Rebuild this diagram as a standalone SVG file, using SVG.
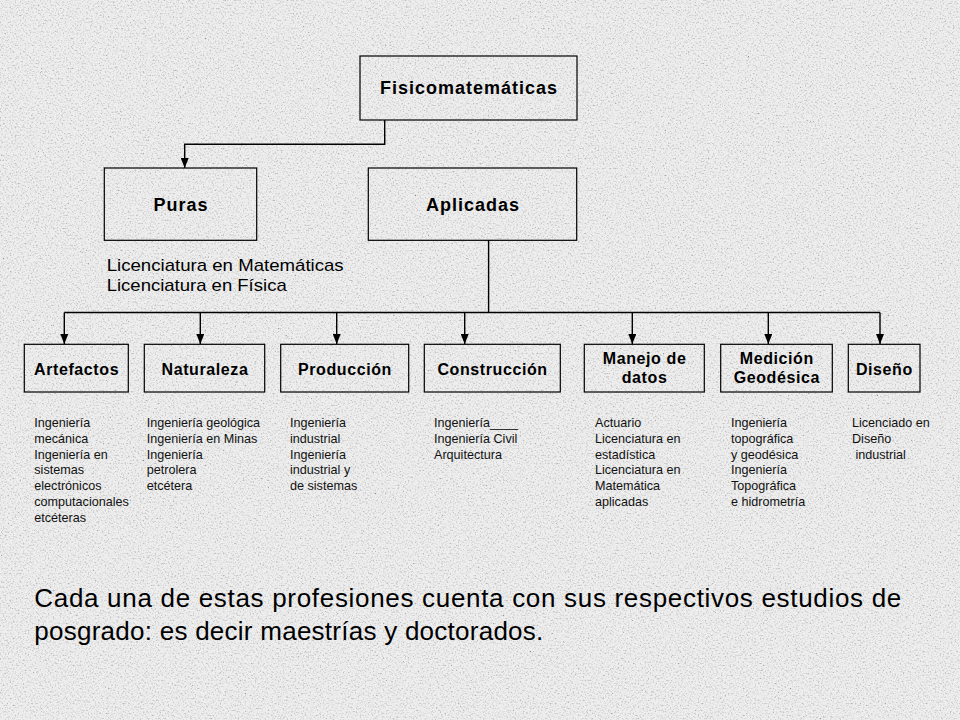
<svg xmlns="http://www.w3.org/2000/svg" width="960" height="720" viewBox="0 0 960 720">
  <defs>
    <filter id="marble" x="0" y="0" width="100%" height="100%">
      <feTurbulence type="fractalNoise" baseFrequency="0.6" numOctaves="3" seed="7" result="n"/>
      <feColorMatrix in="n" type="matrix" values="2.2 0 0 0 -0.15  2.2 0 0 0 -0.15  2.2 0 0 0 -0.15  0 0 0 0 0.4"/>
    </filter>
    <marker id="arr" viewBox="0 0 10 8" refX="10" refY="4" markerWidth="10" markerHeight="8" markerUnits="userSpaceOnUse" orient="auto">
      <path d="M0,0 L10,4 L0,8 Z" fill="#000"/>
    </marker>
    <style>
      .box { fill: none; stroke: #000; stroke-width: 1.2; }
      .conn { fill: none; stroke: #000; stroke-width: 1.4; }
      .big { font-family: "Liberation Sans", Arial, sans-serif; font-weight: bold; font-size: 18px; letter-spacing: 1px; fill: #000; text-anchor: middle; }
      .lbl { font-family: "Liberation Sans", Arial, sans-serif; font-weight: bold; font-size: 16px; letter-spacing: 0.6px; fill: #000; text-anchor: middle; }
      .sm { font-family: "Liberation Sans", Arial, sans-serif; font-size: 12.6px; fill: #111; }
      .mid { font-family: "Liberation Sans", Arial, sans-serif; font-size: 17px; fill: #000; }
      .foot { font-family: "Liberation Sans", Arial, sans-serif; font-size: 26px; fill: #000; }
    </style>
  </defs>

  <rect x="0" y="0" width="960" height="720" fill="#e2e2e2"/>
  <rect x="0" y="0" width="960" height="720" filter="url(#marble)"/>

  <g id="connectors">
    <path class="conn" d="M384.7,120 V144.3 H184.7 V168" marker-end="url(#arr)"/>
    <path class="conn" d="M488.6,240 V312.5"/>
    <path class="conn" d="M64.3,312.5 H880"/>
    <path class="conn" d="M64.3,312.5 V344" marker-end="url(#arr)"/>
    <path class="conn" d="M200.3,312.5 V344" marker-end="url(#arr)"/>
    <path class="conn" d="M336.7,312.5 V344" marker-end="url(#arr)"/>
    <path class="conn" d="M464.7,312.5 V344" marker-end="url(#arr)"/>
    <path class="conn" d="M632.3,312.5 V344" marker-end="url(#arr)"/>
    <path class="conn" d="M768.3,312.5 V344" marker-end="url(#arr)"/>
    <path class="conn" d="M880,312.5 V344" marker-end="url(#arr)"/>
  </g>

  <g id="fisicomatematicas">
    <rect class="box" x="360" y="56" width="217" height="64"/>
    <text class="big" x="469" y="94.3">Fisicomatemáticas</text>
  </g>
  <g id="puras">
    <rect class="box" x="104.3" y="168" width="152.4" height="72.3"/>
    <text class="big" x="181" y="211">Puras</text>
  </g>
  <g id="aplicadas">
    <rect class="box" x="368.3" y="168" width="208.4" height="72.3"/>
    <text class="big" x="473" y="211">Aplicadas</text>
  </g>
  <g id="puras-text">
    <text class="mid" x="106.7" y="271" textLength="237" lengthAdjust="spacingAndGlyphs">Licenciatura en Matemáticas</text>
    <text class="mid" x="106.7" y="291" textLength="180" lengthAdjust="spacingAndGlyphs">Licenciatura en Física</text>
  </g>

  <g id="artefactos">
    <rect class="box" x="24.3" y="344.3" width="104" height="47.7"/>
    <text class="lbl" x="76.6" y="374.5">Artefactos</text>
  </g>
  <g id="naturaleza">
    <rect class="box" x="144.3" y="344.3" width="120.4" height="47.7"/>
    <text class="lbl" x="205" y="374.5">Naturaleza</text>
  </g>
  <g id="produccion">
    <rect class="box" x="280.7" y="344.3" width="128" height="47.7"/>
    <text class="lbl" x="345" y="374.5">Producción</text>
  </g>
  <g id="construccion">
    <rect class="box" x="424.3" y="344.3" width="136" height="47.7"/>
    <text class="lbl" x="492.6" y="374.5">Construcción</text>
  </g>
  <g id="manejo">
    <rect class="box" x="584.3" y="344.3" width="120" height="47.7"/>
    <text class="lbl" x="644.6" y="364.3">Manejo de</text>
    <text class="lbl" x="644.6" y="383.3">datos</text>
  </g>
  <g id="medicion">
    <rect class="box" x="720.7" y="344.3" width="111.6" height="47.7"/>
    <text class="lbl" x="776.8" y="364.3">Medición</text>
    <text class="lbl" x="776.8" y="383.3">Geodésica</text>
  </g>
  <g id="diseno">
    <rect class="box" x="848.3" y="344.3" width="71.7" height="47.7"/>
    <text class="lbl" x="884.4" y="374.5">Diseño</text>
  </g>

  <g id="lists" class="sm">
    <text x="34.3" y="427">
      <tspan x="34.3" dy="0">Ingeniería</tspan>
      <tspan x="34.3" dy="15.75">mecánica</tspan>
      <tspan x="34.3" dy="15.75">Ingeniería en</tspan>
      <tspan x="34.3" dy="15.75">sistemas</tspan>
      <tspan x="34.3" dy="15.75">electrónicos</tspan>
      <tspan x="34.3" dy="15.75">computacionales</tspan>
      <tspan x="34.3" dy="15.75">etcéteras</tspan>
    </text>
    <text x="146.7" y="427">
      <tspan x="146.7" dy="0">Ingeniería geológica</tspan>
      <tspan x="146.7" dy="15.75">Ingeniería en Minas</tspan>
      <tspan x="146.7" dy="15.75">Ingeniería</tspan>
      <tspan x="146.7" dy="15.75">petrolera</tspan>
      <tspan x="146.7" dy="15.75">etcétera</tspan>
    </text>
    <text x="290" y="427">
      <tspan x="290" dy="0">Ingeniería</tspan>
      <tspan x="290" dy="15.75">industrial</tspan>
      <tspan x="290" dy="15.75">Ingeniería</tspan>
      <tspan x="290" dy="15.75">industrial y</tspan>
      <tspan x="290" dy="15.75">de sistemas</tspan>
    </text>
    <text x="434" y="427">
      <tspan x="434" dy="0">Ingeniería____</tspan>
      <tspan x="434" dy="15.75">Ingeniería Civil</tspan>
      <tspan x="434" dy="15.75">Arquitectura</tspan>
    </text>
    <text x="595" y="427">
      <tspan x="595" dy="0">Actuario</tspan>
      <tspan x="595" dy="15.75">Licenciatura en</tspan>
      <tspan x="595" dy="15.75">estadística</tspan>
      <tspan x="595" dy="15.75">Licenciatura en</tspan>
      <tspan x="595" dy="15.75">Matemática</tspan>
      <tspan x="595" dy="15.75">aplicadas</tspan>
    </text>
    <text x="731" y="427">
      <tspan x="731" dy="0">Ingeniería</tspan>
      <tspan x="731" dy="15.75">topográfica</tspan>
      <tspan x="731" dy="15.75">y geodésica</tspan>
      <tspan x="731" dy="15.75">Ingeniería</tspan>
      <tspan x="731" dy="15.75">Topográfica</tspan>
      <tspan x="731" dy="15.75">e hidrometría</tspan>
    </text>
    <text x="852" y="427" xml:space="preserve"><tspan x="852" dy="0">Licenciado en</tspan><tspan x="852" dy="15.75">Diseño</tspan><tspan x="852" dy="15.75"> industrial</tspan></text>
  </g>

  <g id="footer">
    <text class="foot" x="34.3" y="607" textLength="867" lengthAdjust="spacing">Cada una de estas profesiones cuenta con sus respectivos estudios de</text>
    <text class="foot" x="34.3" y="640" textLength="509" lengthAdjust="spacing">posgrado: es decir maestrías y doctorados.</text>
  </g>
</svg>
